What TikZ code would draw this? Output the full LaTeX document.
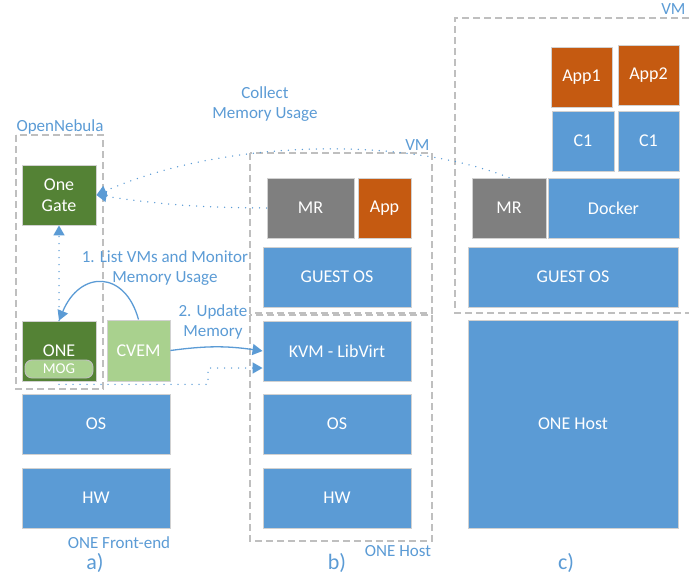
\documentclass[tikz,border=0pt]{standalone}
\usepackage{fontspec}
\setmainfont{Carlito}
\usepackage{xcolor}
\usetikzlibrary{arrows.meta,calc}
\definecolor{boxblue}{HTML}{5B9BD5}
\definecolor{darkgreen}{HTML}{548235}
\definecolor{lightgreen}{HTML}{A9D18E}
\definecolor{apporange}{HTML}{C55A11}
\definecolor{mrgray}{HTML}{7F7F7F}
\definecolor{frame}{HTML}{BFBFBF}

\begin{document}
\begin{tikzpicture}[x=1pt,y=-1pt]
\tikzset{
	box node/.style = {rectangle, draw=black!18, line width=0.9pt, inner sep=0, text=white, align=center, font=\fontsize{18}{21}\selectfont},
	blue node/.style = {box node, fill=boxblue},
	green node/.style = {box node, fill=darkgreen},
	light node/.style = {box node, fill=lightgreen},
	app node/.style = {box node, fill=apporange},
	mr node/.style = {box node, fill=mrgray},
	frame box/.style = {draw=frame, line width=1.2pt, dash pattern=on 7pt off 4pt},
	label/.style = {text=boxblue, align=center, font=\fontsize{17}{20}\selectfont},
	tag/.style = {text=boxblue, font=\fontsize{22}{24}\selectfont},
	dot line/.style = {draw=boxblue, line width=1.5pt, line cap=round, dash pattern=on 0pt off 7pt, -{Triangle[length=10pt,width=11pt]}},
	flow/.style = {draw=boxblue, line width=1.3pt, -{Triangle[length=10pt,width=11pt]}},
}
\useasboundingbox (0,0) rectangle (689,576);

% dashed frames
\draw[frame box] (16,135) rectangle (103,389);
\draw[frame box] (250,153) rectangle (432,313);
\draw[frame box] (250,315) rectangle (432,541);
\draw[frame box] (689,18) -| (455,313) -- (689,313);

% a) front-end
\node[green node, minimum width=74pt, minimum height=60pt](gate) at (59,195){One\\Gate};
\node[green node, minimum width=74pt, minimum height=60pt](one) at (59,351){ONE};
\node[light node, rounded corners=7pt, draw=black!25, minimum width=68pt, minimum height=18pt, font=\fontsize{15}{17}\selectfont](mog) at (59,369){MOG};
\node[light node, minimum width=63pt, minimum height=61pt](cvem) at (138.5,350.5){CVEM};
\node[blue node, minimum width=148pt, minimum height=60pt](osa) at (96,424){OS};
\node[blue node, minimum width=148pt, minimum height=60pt](hwa) at (96,498){HW};

% b) host
\node[mr node, minimum width=87pt, minimum height=60pt](mrb) at (310.5,208){MR};
\node[app node, minimum width=53pt, minimum height=60pt](appb) at (384.5,208){App};
\node[blue node, minimum width=148pt, minimum height=60pt](gosb) at (337,277){GUEST OS};
\node[blue node, minimum width=148pt, minimum height=60pt](kvm) at (337,351){KVM - LibVirt};
\node[blue node, minimum width=148pt, minimum height=60pt](osb) at (337,424){OS};
\node[blue node, minimum width=148pt, minimum height=60pt](hwb) at (337,498){HW};

% c) containers
\node[app node, minimum width=61pt, minimum height=60pt](app1) at (581.5,77){App1};
\node[app node, minimum width=61pt, minimum height=60pt](app2) at (648.5,75){App2};
\node[blue node, minimum width=62pt, minimum height=60pt](c1a) at (583,141){C1};
\node[blue node, minimum width=61pt, minimum height=60pt](c1b) at (648.5,141){C1};
\node[mr node, minimum width=74pt, minimum height=60pt](mrc) at (509,208){MR};
\node[blue node, minimum width=131pt, minimum height=60pt](dock) at (613.5,208){Docker};
\node[blue node, minimum width=210pt, minimum height=60pt](gosc) at (573,277){GUEST OS};
\node[blue node, minimum width=210pt, minimum height=208pt](hostc) at (573,424){ONE Host};

% connectors
\draw[dot line] (mrc.north) .. controls (400,135) and (220,140) .. (gate.east);
\draw[dot line] (mrb.west) to[bend left=4] (gate.east);
\draw[dot line] (one.north) -- (gate.south);
\draw[dot line] ([yshift=-3pt]one.south) -- ++(149,0) |- ([yshift=-17pt]kvm.west);
\draw[flow] (cvem.north) .. controls (125,270) and (80,270) .. (one.north);
\draw[flow] (cvem.east) to[bend left=8] (kvm.west);

% labels
\node[label](lopen) at (60,127){OpenNebula};
\node[label, anchor=east](lvmb) at (433,145){VM};
\node[label, anchor=east](lvmc) at (689,9){VM};
\node[label](lcollect) at (265,104){Collect\\Memory Usage};
\node[label](llist) at (165,268){1. List VMs and Monitor\\Memory Usage};
\node[label](lupdate) at (213,322){2. Update\\Memory};
\node[label](lfront) at (119,543){ONE Front-end};
\node[label](lhost) at (398,551){ONE Host};
\node[tag](ta) at (95,563){a)};
\node[tag](tb) at (337,563){b)};
\node[tag](tc) at (566,563){c)};
\end{tikzpicture}
\end{document}
